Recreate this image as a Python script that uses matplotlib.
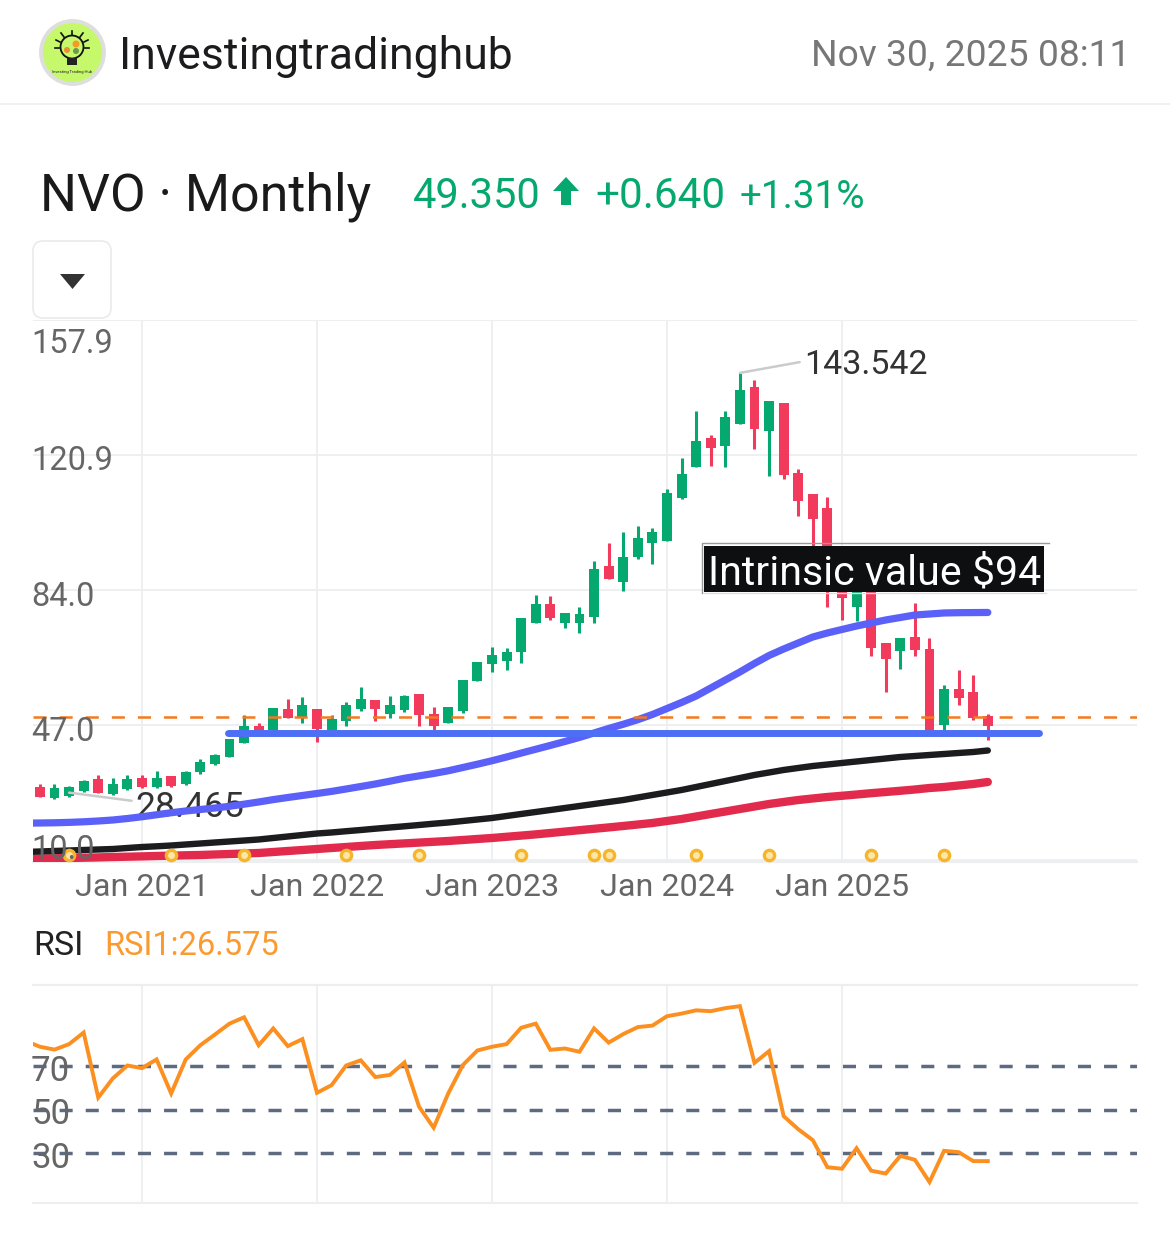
import matplotlib
matplotlib.use('Agg')
import matplotlib.pyplot as plt
from matplotlib.patches import Circle, Rectangle, FancyBboxPatch, Polygon
from matplotlib.transforms import ScaledTranslation

plt.rcParams['font.family'] = ['Roboto', 'DejaVu Sans']
plt.rcParams['lines.scale_dashes'] = False

# monthly candles, Jun 2020 = month 0
candle_open = [29.9, 26.9, 27.5, 28.9, 32.1, 28.1, 29.4, 32.5, 29.9, 33.1, 30.7, 34.0, 36.2, 38.3, 42.1, 46.7, 45.6,
               51.5, 49.3, 51.5, 45.6, 48.0, 51.3, 53.9, 50.0, 51.1, 55.4, 50.0, 47.6, 50.9, 59.1, 63.6, 64.5, 67.1,
               75.0, 80.1, 75.0, 74.9, 76.7, 90.7, 86.3, 93.1, 96.8, 97.4, 109.3, 117.8, 125.6, 123.5, 129.5, 139.6,
               127.7, 135.3, 116.0, 110.2, 106.4, 90.9, 79.4, 84.0, 69.4, 67.4, 71.2, 67.8, 47.0, 56.9, 56.1, 49.5]
candle_high = [30.7, 30.7, 30.4, 31.9, 33.4, 32.4, 33.4, 33.2, 34.3, 33.1, 34.3, 37.7, 39.1, 43.1, 49.8, 47.6, 51.7,
               54.0, 54.6, 51.5, 49.8, 53.4, 57.5, 53.9, 54.9, 55.2, 55.4, 52.0, 51.9, 59.3, 64.4, 68.5, 68.0, 76.4,
               82.6, 82.4, 77.8, 79.4, 91.9, 97.0, 100.0, 101.5, 100.9, 111.6, 120.1, 133.1, 126.5, 133.1, 143.5, 141.6,
               135.9, 135.3, 117.2, 110.2, 109.4, 92.2, 85.4, 85.4, 69.4, 70.8, 80.4, 70.8, 58.0, 62.1, 60.7, 50.0]
candle_low = [27.2, 26.7, 27.3, 28.7, 28.3, 27.9, 29.2, 29.8, 29.8, 29.9, 30.6, 33.7, 36.0, 38.2, 42.1, 44.8, 45.6,
              48.8, 47.5, 42.4, 45.6, 46.7, 50.8, 48.0, 49.0, 50.5, 46.7, 45.6, 47.5, 50.3, 59.0, 61.6, 62.1, 64.1,
              74.9, 75.8, 73.7, 72.3, 74.9, 87.0, 83.7, 92.4, 91.1, 97.4, 108.9, 117.6, 118.1, 117.6, 129.5, 122.6,
              115.2, 114.3, 104.4, 95.5, 79.3, 75.8, 75.6, 66.0, 56.1, 62.3, 66.0, 45.1, 45.6, 52.5, 48.4, 42.9]
candle_close = [27.2, 29.7, 30.1, 31.7, 28.3, 30.7, 32.1, 29.9, 32.6, 30.3, 34.2, 36.8, 38.9, 43.1, 46.7, 45.1, 51.7,
                48.8, 52.5, 45.8, 48.6, 52.5, 54.0, 51.3, 52.6, 55.0, 49.7, 46.8, 51.9, 59.3, 64.4, 66.2, 67.1, 76.4,
                80.2, 76.2, 77.8, 77.4, 89.7, 87.0, 93.1, 98.3, 99.8, 110.7, 115.7, 124.8, 123.0, 131.5, 138.8, 128.2,
                135.9, 115.5, 108.5, 103.5, 90.9, 81.8, 84.0, 68.2, 65.1, 70.8, 67.6, 45.6, 56.8, 54.3, 48.8, 46.7]

# moving averages and RSI start one month earlier so they run off the left edge
ma_blue = [20.10, 20.14, 20.20, 20.31, 20.47, 20.69, 20.96, 21.37, 21.85, 22.40, 22.95, 23.43, 23.84, 24.25, 24.72,
           25.30, 25.90, 26.55, 27.13, 27.68, 28.23, 28.80, 29.46, 30.14, 30.83, 31.60, 32.40, 33.05, 33.71, 34.45,
           35.35, 36.25, 37.20, 38.23, 39.30, 40.35, 41.40, 42.48, 43.60, 44.81, 46.05, 47.20, 48.45, 49.88, 51.52,
           53.17, 54.95, 57.14, 59.33, 61.53, 63.86, 66.05, 67.83, 69.48, 71.12, 72.22, 73.18, 74.13, 74.96, 75.78,
           76.46, 77.15, 77.42, 77.70, 77.78, 77.81, 77.84]
ma_black = [12.20, 12.33, 12.47, 12.60, 12.74, 12.88, 13.01, 13.29, 13.56, 13.75, 13.97, 14.25, 14.52, 14.80, 15.07,
            15.34, 15.62, 16.03, 16.44, 16.85, 17.26, 17.54, 17.89, 18.22, 18.58, 18.91, 19.24, 19.59, 19.95, 20.28,
            20.69, 21.10, 21.51, 22.06, 22.61, 23.16, 23.70, 24.25, 24.80, 25.35, 25.90, 26.44, 27.13, 27.82, 28.50,
            29.19, 30.01, 30.83, 31.65, 32.47, 33.30, 33.98, 34.67, 35.22, 35.76, 36.17, 36.59, 37.00, 37.41, 37.82,
            38.23, 38.50, 38.78, 39.05, 39.33, 39.60, 40.01]
ma_red = [10.35, 10.41, 10.47, 10.55, 10.63, 10.71, 10.82, 10.90, 10.99, 11.10, 11.18, 11.29, 11.37, 11.51, 11.64,
          11.78, 11.92, 12.19, 12.47, 12.74, 13.01, 13.29, 13.56, 13.84, 14.11, 14.33, 14.55, 14.77, 14.99, 15.21,
          15.48, 15.76, 16.03, 16.36, 16.69, 17.02, 17.40, 17.78, 18.17, 18.55, 18.93, 19.32, 19.73, 20.14, 20.69,
          21.24, 21.92, 22.61, 23.29, 23.98, 24.66, 25.35, 25.90, 26.44, 26.86, 27.27, 27.60, 27.95, 28.31, 28.64,
          28.97, 29.32, 29.73, 30.01, 30.42, 30.83, 31.38]
rsi = [81.6, 78.9, 77.6, 80.1, 85.4, 55.6, 64.4, 70.3, 69.1, 73.1, 57.5, 73.1, 79.6, 84.5, 89.5, 92.4, 79.6, 87.3, 79.2,
       82.4, 57.8, 61.3, 70.3, 72.7, 65.0, 66.0, 71.7, 51.4, 41.8, 57.5, 70.5, 77.2, 78.9, 80.1, 87.6, 89.5, 77.5, 78.1,
       76.6, 87.3, 80.8, 84.7, 87.9, 88.6, 92.9, 94.1, 95.6, 95.2, 96.6, 97.5, 71.5, 76.9, 47.1, 41.1, 36.1, 23.7, 23.0,
       32.4, 22.1, 20.8, 28.9, 27.1, 16.9, 31.2, 30.6, 26.5, 26.5]

year_ticks = [7, 19, 31, 43, 55]
year_labels = ['Jan 2021', 'Jan 2022', 'Jan 2023', 'Jan 2024', 'Jan 2025']
price_ticks = [157.9, 120.9, 84.0, 47.0, 10.0]
price_labels = ['157.9', '120.9', '84.0', '47.0', '10.0']
rsi_ticks = [70, 50, 30]
event_months = [2, 9, 14, 21, 26, 33, 38, 39, 45, 50, 57, 62]

last_price = 49.1
support = 44.8
support_from = 12.9
support_to = 68.5
high_month = 48
high_value = 143.5
low_month = 2
low_value = 28.465

GREEN = '#05a86e'
RED = '#f23b5c'
GRID = '#eceef0'
W, H = 1170, 1251


def px_axes(x0, y0, x1, y1):
    return [x0 / W, 1 - y1 / H, (x1 - x0) / W, (y1 - y0) / H]


fig = plt.figure(figsize=(11.7, 12.51), dpi=100, facecolor='white')

# price panel
ax = fig.add_axes(px_axes(33, 320, 1137, 862))
ax.set_xlim(-0.474, 75.23)
ax.set_ylim(9.45, 158.0)
for s in ax.spines.values():
    s.set_visible(False)
ax.axhline(9.45, color=GRID, lw=1.6, zorder=0.5, clip_on=False)
for v in price_ticks:
    ax.axhline(v, color=GRID, lw=1.3, zorder=0.5)
for m in year_ticks:
    ax.axvline(m, color=GRID, lw=1.3, zorder=0.5)

months = list(range(len(candle_open)))
colors = [GREEN if c >= o else RED for o, c in zip(candle_open, candle_close)]
ax.vlines(months, candle_low, candle_high, colors=colors, lw=2.2, zorder=2)
ax.bar(months, [abs(c - o) for o, c in zip(candle_open, candle_close)],
       bottom=[min(o, c) for o, c in zip(candle_open, candle_close)],
       width=0.68, color=colors, zorder=2)

ma_months = list(range(-1, len(candle_open)))
ax.plot(ma_months, ma_blue, color='#5a60f8', lw=5.2, solid_capstyle='round', zorder=3)
ax.plot(ma_months, ma_red, color='#e22b4c', lw=6.0, solid_capstyle='round', zorder=3)
ax.plot(ma_months, ma_black, color='#1c1c1e', lw=4.6, solid_capstyle='round', zorder=3.1)

ax.plot([support_from, support_to], [support, support], color='#4d6ff5', lw=5.0,
        solid_capstyle='round', zorder=3.5)
ax.axhline(last_price, color='#f5791f', lw=1.8, linestyle=(0, (9.4, 9.4)), zorder=4)

ax.scatter(event_months, [11.4] * len(event_months), s=55, facecolor='#fde6a8', edgecolor='#f6b62c',
           linewidth=2.4, zorder=5)

ax.annotate('143.542', xy=(high_month, high_value), xytext=(46, 6), textcoords='offset points',
            fontsize=24.5, color='#333333', ha='left', va='center', zorder=6,
            arrowprops=dict(arrowstyle='-', color='#c9cbcd', lw=1.8, shrinkA=1, shrinkB=0, relpos=(0, 0.6)))
ax.annotate('28.465', xy=(low_month, low_value), xytext=(48, -11), textcoords='offset points',
            fontsize=25.5, color='#333333', ha='left', va='center', zorder=2.5,
            arrowprops=dict(arrowstyle='-', color='#c9cbcd', lw=1.8, shrinkA=1, shrinkB=0, relpos=(0, 0.7)))

ax.set_xticks(year_ticks)
ax.set_xticklabels(year_labels, fontsize=23.2, color='#666666')
ax.set_yticks(price_ticks)
ax.set_yticklabels(price_labels, fontsize=23.5, color='#666666')
ax.tick_params(axis='both', length=0)
ax.tick_params(axis='x', pad=8)
ax.tick_params(axis='y', pad=0)
ax.yaxis.set_zorder(10)
label_shift = [24, 6, 7, 7, -10]
for lab, dy in zip(ax.get_yticklabels(), label_shift):
    lab.set_ha('left')
    lab.set_va('center')
    lab.set_transform(lab.get_transform() + ScaledTranslation(-2 / 100, -dy / 100, fig.dpi_scale_trans))

# RSI panel
ax2 = fig.add_axes(px_axes(33, 985, 1137, 1203))
ax2.set_xlim(-0.474, 75.23)
ax2.set_ylim(7.3, 107.2)
for s in ax2.spines.values():
    s.set_visible(False)
ax2.axhline(107.2, color=GRID, lw=1.6, zorder=0.5, clip_on=False)
ax2.axhline(7.3, color=GRID, lw=1.6, zorder=0.5, clip_on=False)
for m in year_ticks:
    ax2.axvline(m, color=GRID, lw=1.3, zorder=0.5)
for v in rsi_ticks:
    ax2.axhline(v, color='#5d6a80', lw=2.5, linestyle=(0, (9.4, 9.4)), zorder=2)
ax2.plot(ma_months, rsi, color='#fb8f1f', lw=2.8, solid_joinstyle='miter', zorder=3)
ax2.set_xticks([])
ax2.set_yticks(rsi_ticks)
ax2.set_yticklabels([str(v) for v in rsi_ticks], fontsize=25, color='#666666')
ax2.tick_params(axis='y', length=0, pad=0)
ax2.yaxis.set_zorder(10)
for lab in ax2.get_yticklabels():
    lab.set_ha('left')
    lab.set_va('center')
    lab.set_transform(lab.get_transform() + ScaledTranslation(-2 / 100, -5 / 100, fig.dpi_scale_trans))

# everything around the chart, laid out in pixels
ui = fig.add_axes([0, 0, 1, 1], facecolor='none', zorder=20)
ui.set_xlim(0, W)
ui.set_ylim(H, 0)
ui.axis('off')

ui.plot([0, W], [104, 104], color='#eeeeee', lw=1.2)

# logo
ui.add_patch(Circle((72.5, 52.5), 31.5, fc='#c6f86c', ec='#dedede', lw=2.8))
ui.add_patch(Circle((72, 47), 11.5, fc='#c6f86c', ec='#111111', lw=1.3))
ui.add_patch(Rectangle((67, 58), 10, 7, fc='#222222', ec='none'))
ui.add_patch(Circle((76, 44), 3.5, fc='#f59a23', ec='none'))
ui.add_patch(Circle((67, 50), 3, fc='#e8912c', ec='none'))
ui.add_patch(Circle((76, 51), 3, fc='#6c9a4a', ec='none'))
for x0, y0, x1, y1 in [(72, 31, 72, 35), (61, 33, 64, 37), (83, 33, 80, 37), (56, 40, 60, 42),
                       (88, 40, 84, 42), (55, 48, 59, 48), (89, 48, 85, 48)]:
    ui.plot([x0, x1], [y0, y1], color='#111111', lw=1.2)
ui.text(72, 72, 'Investing Trading Hub', fontsize=3, color='#222222', ha='center', va='center')

ui.text(119, 57, 'Investingtradinghub', fontsize=32, color='#1c1c1e', va='center', ha='left')
ui.text(1130, 56, 'Nov 30, 2025 08:11', fontsize=26.8, color='#777777', va='center', ha='right')

ui.text(40, 197, 'NVO · Monthly', fontsize=37.4, color='#1a1a1a', va='center', ha='left')
ui.text(413, 197, '49.350', fontsize=30, color=GREEN, va='center', ha='left')
ui.add_patch(Polygon([(566, 177), (579, 191), (571, 191), (571, 205), (561, 205), (561, 191), (553, 191)],
                     fc=GREEN, ec='none'))
ui.text(595, 197, '+0.640', fontsize=30.4, color=GREEN, va='center', ha='left')
ui.text(740, 197, '+1.31%', fontsize=27.8, color=GREEN, va='center', ha='left')

ui.add_patch(FancyBboxPatch((38, 246), 68, 67, boxstyle='round,pad=5,rounding_size=10', fc='white',
                            ec='#ececec', lw=1.3))
ui.add_patch(Polygon([(60, 274), (85, 274), (72.5, 289)], fc='#333333', ec='none', joinstyle='round'))

# intrinsic value label
ui.plot([702, 702, 1049], [593, 543, 543], color='#9a9a9a', lw=1)
ui.plot([704, 1046], [593, 593], color='#dddddd', lw=1)
ui.add_patch(Rectangle((704, 546), 340, 46, fc='#0e0f10', ec='none'))
ui.text(708, 573, 'Intrinsic value $94', fontsize=29.6, color='white', va='center', ha='left')

ui.text(33, 946, 'RSI', fontsize=24.5, color='#222222', va='center', ha='left')
ui.text(104, 946, 'RSI1:26.575', fontsize=23.5, color='#fb9a2e', va='center', ha='left')

fig.savefig('out.png', dpi=100)
